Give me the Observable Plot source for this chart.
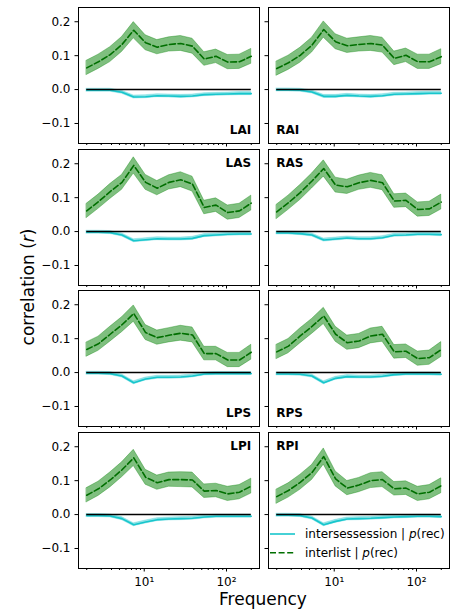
<!DOCTYPE html>
<html>
<head>
<meta charset="utf-8">
<script src="https://cdn.jsdelivr.net/npm/d3@7"></script>
<script src="https://cdn.jsdelivr.net/npm/@observablehq/plot@0.6"></script>
<style>
  body { margin: 0; background: white; }
  #chart { position: relative; width: 455px; height: 611px; overflow: hidden; font-family: "DejaVu Sans", sans-serif; }
  #chart > svg, #chart > figure { position: absolute; margin: 0; }
</style>
</head>
<body>
<div id="chart"></div>
<script>
// ---- data ----
const freqs = [2.0, 2.78, 3.86, 5.37, 7.46, 10.4, 14.4, 20.0, 27.8, 38.6, 53.7, 74.6, 103.6, 143.9, 200];
const panelNames = ["LAI", "RAI", "LAS", "RAS", "LPS", "RPS", "LPI", "RPI"];

const interlistLAI = [0.064, 0.082, 0.103, 0.133, 0.175, 0.138, 0.125, 0.133, 0.136, 0.128, 0.090, 0.098, 0.081, 0.082, 0.098];
const interlistRAI = [0.062, 0.079, 0.101, 0.131, 0.177, 0.141, 0.129, 0.133, 0.136, 0.131, 0.092, 0.101, 0.082, 0.082, 0.097];
const interlistLAS = [0.061, 0.088, 0.118, 0.145, 0.195, 0.145, 0.128, 0.145, 0.153, 0.140, 0.071, 0.078, 0.056, 0.061, 0.084];
const interlistRAS = [0.058, 0.085, 0.115, 0.149, 0.186, 0.137, 0.132, 0.144, 0.151, 0.144, 0.090, 0.092, 0.065, 0.067, 0.087];
const interlistLPS = [0.068, 0.085, 0.113, 0.141, 0.174, 0.118, 0.103, 0.110, 0.116, 0.111, 0.056, 0.056, 0.037, 0.037, 0.060];
const interlistRPS = [0.061, 0.078, 0.108, 0.136, 0.167, 0.113, 0.088, 0.093, 0.108, 0.113, 0.061, 0.063, 0.041, 0.044, 0.068];
const interlistLPI = [0.057, 0.076, 0.102, 0.132, 0.167, 0.110, 0.094, 0.103, 0.103, 0.102, 0.069, 0.071, 0.061, 0.066, 0.084];
const interlistRPI = [0.053, 0.071, 0.095, 0.124, 0.171, 0.105, 0.078, 0.087, 0.100, 0.103, 0.076, 0.078, 0.061, 0.066, 0.085];

const intersessionLAI = [-0.002, -0.002, -0.002, -0.008, -0.022, -0.021, -0.018, -0.019, -0.020, -0.019, -0.015, -0.014, -0.013, -0.012, -0.012];
const intersessionRAI = [-0.001, -0.001, -0.002, -0.007, -0.020, -0.020, -0.017, -0.019, -0.020, -0.018, -0.014, -0.013, -0.012, -0.011, -0.011];
const intersessionLAS = [-0.002, -0.002, -0.003, -0.010, -0.027, -0.024, -0.021, -0.022, -0.022, -0.020, -0.012, -0.010, -0.008, -0.007, -0.007];
const intersessionRAS = [-0.004, -0.004, -0.006, -0.010, -0.025, -0.022, -0.019, -0.021, -0.021, -0.018, -0.011, -0.010, -0.008, -0.008, -0.009];
const intersessionLPS = [-0.002, -0.002, -0.003, -0.010, -0.030, -0.019, -0.014, -0.014, -0.013, -0.010, -0.004, -0.003, -0.003, -0.003, -0.003];
const intersessionRPS = [-0.004, -0.004, -0.005, -0.010, -0.030, -0.017, -0.012, -0.013, -0.013, -0.011, -0.006, -0.004, -0.004, -0.004, -0.005];
const intersessionLPI = [-0.003, -0.003, -0.004, -0.012, -0.030, -0.022, -0.015, -0.013, -0.012, -0.011, -0.007, -0.005, -0.005, -0.005, -0.005];
const intersessionRPI = [-0.002, -0.002, -0.003, -0.010, -0.030, -0.020, -0.013, -0.012, -0.011, -0.009, -0.007, -0.006, -0.005, -0.005, -0.006];

// half-widths of the shaded confidence bands
const interlistCI = [0.021, 0.021, 0.022, 0.022, 0.024, 0.022, 0.021, 0.021, 0.022, 0.022, 0.020, 0.020, 0.021, 0.021, 0.022];
const intersessionCI = [0.0045, 0.0045, 0.0045, 0.0045, 0.0045, 0.0045, 0.0045, 0.0045, 0.0045, 0.0045, 0.0045, 0.0045, 0.0045, 0.0045, 0.0045];

const yTicks = [-0.1, 0, 0.1, 0.2];
const xMajorTicks = [10, 100];
const xMinorTicks = [2, 3, 4, 5, 6, 7, 8, 9, 20, 30, 40, 50, 60, 70, 80, 90, 200];
const xTickLabels = {10: "10¹", 100: "10²"};
const legendLabels = ["intersessession | ", "interlist | "];

const interlist = {LAI: interlistLAI, RAI: interlistRAI, LAS: interlistLAS, RAS: interlistRAS, LPS: interlistLPS, RPS: interlistRPS, LPI: interlistLPI, RPI: interlistRPI};
const intersession = {LAI: intersessionLAI, RAI: intersessionRAI, LAS: intersessionLAS, RAS: intersessionRAS, LPS: intersessionLPS, RPS: intersessionRPS, LPI: intersessionLPI, RPI: intersessionRPI};

// ---- layout ----
const GREEN = "green", DARKGREEN = "#006f00", CYAN = "#17c6cc";
const DASH = "6,2.6";
const frameW = 181, frameH = 136;
const colLeft = [78, 268];
const rowTop = [7, 148.5, 290, 431.5];
const mL = 50, mR = 6, mT = 6, mB = 30;
const labelPos = ["bottom", "bottom", "top", "top", "bottom", "bottom", "top", "top"];

const chart = document.getElementById("chart");

panelNames.forEach((name, idx) => {
  const col = idx % 2, row = Math.floor(idx / 2);
  const rows = freqs.map((f, i) => ({
    f,
    il: interlist[name][i],
    ilLo: interlist[name][i] - interlistCI[i],
    ilHi: interlist[name][i] + interlistCI[i],
    is: intersession[name][i],
    isLo: intersession[name][i] - intersessionCI[i],
    isHi: intersession[name][i] + intersessionCI[i]
  }));
  const vpos = labelPos[idx];
  const anchor = vpos + (col === 0 ? "-right" : "-left");
  const plot = Plot.plot({
    width: frameW + mL + mR,
    height: frameH + mT + mB,
    marginLeft: mL, marginRight: mR, marginTop: mT, marginBottom: mB,
    style: {background: "transparent", fontFamily: "DejaVu Sans", fontSize: "12px", overflow: "visible", color: "black"},
    x: {type: "log", domain: [1.589, 251.8]},
    y: {domain: [-0.159, 0.242]},
    marks: [
      Plot.areaY(rows, {x: "f", y1: "ilLo", y2: "ilHi", fill: GREEN, fillOpacity: 0.5, stroke: GREEN, strokeOpacity: 0.35, strokeWidth: 1}),
      Plot.lineY(rows, {x: "f", y: "il", stroke: DARKGREEN, strokeWidth: 1.6, strokeDasharray: DASH}),
      Plot.areaY(rows, {x: "f", y1: "isLo", y2: "isHi", fill: CYAN, fillOpacity: 0.45, stroke: CYAN, strokeOpacity: 0.3, strokeWidth: 0.8}),
      Plot.lineY(rows, {x: "f", y: "is", stroke: CYAN, strokeWidth: 1.6}),
      Plot.ruleY([{y: 0, x1: freqs[0], x2: freqs[freqs.length - 1]}], {y: "y", x1: "x1", x2: "x2", stroke: "black", strokeWidth: 1.5}),
      Plot.axisY({ticks: yTicks, tickSize: 3.5, tickPadding: 4.5, label: null,
        tickFormat: col === 0 ? (d => d3.format(".1f")(d)) : (() => "")}),
      Plot.axisX({ticks: xMajorTicks, tickSize: 3.5, tickPadding: 5.5, label: null,
        tickFormat: row === 3 ? (d => xTickLabels[d]) : (() => "")}),
      Plot.axisX({ticks: xMinorTicks, tickSize: 2, label: null, tickFormat: () => ""}),
      Plot.frame({stroke: "black", strokeWidth: 1}),
      Plot.text([name], {frameAnchor: anchor, text: d => d, fontWeight: "bold", fontSize: 12,
        lineAnchor: "middle", textAnchor: col === 0 ? "end" : "start",
        dx: col === 0 ? -8.3 : 7.7, dy: vpos === "top" ? 13.3 : -13.8})
    ]
  });
  plot.style.left = (colLeft[col] - mL) + "px";
  plot.style.top = (rowTop[row] - mT) + "px";
  chart.appendChild(plot);
});

// ---- overlay: axis titles and legend ----
const overlay = d3.select(chart).append("svg")
  .attr("width", 455).attr("height", 611)
  .style("left", "0px").style("top", "0px")
  .style("font-family", "DejaVu Sans");

const yl = overlay.append("text")
  .attr("transform", "translate(34,287) rotate(-90)")
  .attr("text-anchor", "middle")
  .attr("font-size", 17);
yl.append("tspan").text("correlation (");
yl.append("tspan").attr("font-style", "italic").text("r");
yl.append("tspan").text(")");

overlay.append("text")
  .attr("x", 263).attr("y", 605)
  .attr("text-anchor", "middle")
  .attr("font-size", 17)
  .text("Frequency");

const legendY = [534, 552.7];
const legendStyles = [{stroke: CYAN, dash: null}, {stroke: DARKGREEN, dash: DASH}];
legendLabels.forEach((lab, i) => {
  overlay.append("line")
    .attr("x1", 270).attr("x2", 295)
    .attr("y1", legendY[i]).attr("y2", legendY[i])
    .attr("stroke", legendStyles[i].stroke)
    .attr("stroke-width", 1.6)
    .attr("stroke-dasharray", legendStyles[i].dash);
  const t = overlay.append("text")
    .attr("x", 305).attr("y", legendY[i] + 4.3)
    .attr("font-size", 12);
  t.append("tspan").text(lab);
  t.append("tspan").attr("font-style", "italic").text("p");
  t.append("tspan").text("(rec)");
});
</script>
</body>
</html>
